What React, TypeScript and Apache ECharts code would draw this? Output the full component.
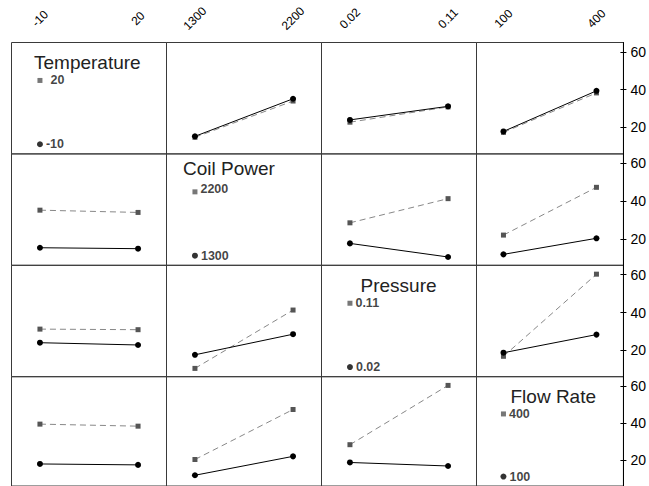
import React, { useEffect, useRef } from "react";
import * as echarts from "echarts";

const factorNames = ["Temperature", "Coil Power", "Pressure", "Flow Rate"];
const temperatureLevels = ["-10", "20"];
const coilPowerLevels = ["1300", "2200"];
const pressureLevels = ["0.02", "0.11"];
const flowRateLevels = ["100", "400"];

// Mean response: [level of first factor][level of second factor]
const tempCoil = [[15.3, 35.2], [14.8, 34.0]];
const tempPressure = [[24.0, 31.2], [22.8, 30.9]];
const tempFlow = [[17.9, 39.4], [17.4, 38.3]];
const coilPressure = [[17.6, 10.4], [28.5, 41.3]];
const coilFlow = [[11.8, 20.3], [22.0, 47.3]];
const pressureFlow = [[18.7, 28.3], [16.8, 60.3]];

const yTickValues = [20, 40, 60];

const levels = [temperatureLevels, coilPowerLevels, pressureLevels, flowRateLevels];
const pairTables: Record<string, number[][]> = {
  "0-1": tempCoil,
  "0-2": tempPressure,
  "0-3": tempFlow,
  "1-2": coilPressure,
  "1-3": coilFlow,
  "2-3": pressureFlow,
};

function meanOf(i: number, j: number, a: number, b: number) {
  if (i < j) return pairTables[`${i}-${j}`][a][b];
  return pairTables[`${j}-${i}`][b][a];
}

const FONT = "Liberation Sans, Arial, sans-serif";

export default function App() {
  const ref = useRef<HTMLDivElement>(null);
  useEffect(() => {
    if (!ref.current) return;
    const chart = echarts.init(ref.current, null, { renderer: "svg" });
    const colW = 155;
    const rowH = 111.4;
    const left0 = 11.5;
    const top0 = 42.5;
    const yMin = 6;
    const yMax = 65;
    const grids: any[] = [];
    const xAxes: any[] = [];
    const yAxes: any[] = [];
    const series: any[] = [];
    const titles: any[] = [];
    const titlePos = [
      [34, 54.5],
      [183, 161],
      [360.5, 277.7],
      [510.5, 389],
    ];
    for (let r = 0; r < 4; r++) {
      for (let c = 0; c < 4; c++) {
        const g = r * 4 + c;
        grids.push({
          left: left0 + c * colW,
          top: top0 + r * rowH,
          width: colW,
          height: rowH,
          show: true,
          borderColor: "#3a3a3a",
          borderWidth: 1,
          backgroundColor: "transparent",
        });
        xAxes.push({
          type: "value",
          gridIndex: g,
          min: -0.29,
          max: 1.29,
          position: "top",
          axisLine: { show: false, onZero: false },
          axisTick: { show: false },
          splitLine: { show: false },
          axisLabel: r === 0
            ? {
                show: true,
                customValues: [0, 1],
                formatter: (v: number) => levels[c][Math.round(v)],
                rotate: -45,
                align: "center",
                verticalAlign: "middle",
                margin: 24,
                fontSize: 12,
                color: "#000",
                fontFamily: FONT,
              }
            : { show: false },
        });
        const isRight = c === 3;
        yAxes.push({
          type: "value",
          gridIndex: g,
          min: yMin,
          max: yMax,
          position: "right",
          splitLine: { show: false },
          axisLine: { show: isRight, onZero: false, lineStyle: { color: "#000", width: 1 } },
          axisTick: isRight
            ? { show: true, customValues: yTickValues, length: 3, lineStyle: { color: "#000" } }
            : { show: false },
          axisLabel: isRight
            ? {
                show: true,
                customValues: yTickValues,
                margin: 7,
                fontSize: 14,
                color: "#000",
                fontFamily: FONT,
              }
            : { show: false },
        });
        if (r === c) {
          titles.push({
            text: factorNames[r],
            left: titlePos[r][0],
            top: titlePos[r][1],
            padding: 0,
            textStyle: { fontSize: 19, lineHeight: 15, fontWeight: "normal", color: "#222", fontFamily: FONT },
          });
          series.push({
            type: "scatter",
            xAxisIndex: g,
            yAxisIndex: g,
            silent: true,
            data: [
              {
                value: [0, 44.9],
                symbol: "rect",
                symbolSize: 5,
                itemStyle: { color: "#555" },
                label: {
                  show: true,
                  position: "right",
                  distance: r === 0 ? 8 : 3,
                  offset: r === 1 ? [0, -3] : [0, 0],
                  formatter: levels[r][1],
                  fontSize: 12.5,
                  lineHeight: 11,
                  fontWeight: "bold",
                  color: "#111",
                  fontFamily: FONT,
                },
              },
              {
                value: [0, 11.1],
                symbol: "circle",
                symbolSize: 6,
                itemStyle: { color: "#000" },
                label: {
                  show: true,
                  position: "right",
                  distance: 3,
                  formatter: levels[r][0],
                  fontSize: 12.5,
                  lineHeight: 11,
                  fontWeight: "bold",
                  color: "#111",
                  fontFamily: FONT,
                },
              },
            ],
          });
        } else {
          for (const t of [1, 0]) {
            series.push({
              type: "line",
              xAxisIndex: g,
              yAxisIndex: g,
              silent: true,
              symbol: t === 1 ? "rect" : "circle",
              symbolSize: t === 1 ? 5 : 6,
              showSymbol: true,
              itemStyle: { color: t === 1 ? "#555" : "#000" },
              lineStyle: t === 1
                ? { color: "#888", width: 1, type: [6, 4] }
                : { color: "#000", width: 1, type: "solid" },
              data: [0, 1].map((k) => [k, meanOf(r, c, t, k)]),
            });
          }
        }
      }
    }
    // inward tick marks on the right axes
    for (let r = 0; r < 4; r++) {
      yAxes.push({
        type: "value",
        gridIndex: r * 4 + 3,
        min: yMin,
        max: yMax,
        position: "right",
        splitLine: { show: false },
        axisLine: { show: false, onZero: false },
        axisTick: { show: true, inside: true, customValues: yTickValues, length: 3, lineStyle: { color: "#000" } },
        axisLabel: { show: false },
      });
    }
    chart.setOption({
      animation: false,
      backgroundColor: "#fff",
      textStyle: { fontFamily: FONT },
      title: titles,
      grid: grids,
      xAxis: xAxes,
      yAxis: yAxes,
      series,
    });
    return () => chart.dispose();
  }, []);
  return (
    <div
      ref={ref}
      style={{ position: "absolute", left: 0, top: 0, width: 649, height: 486, background: "#fff" }}
    />
  );
}
